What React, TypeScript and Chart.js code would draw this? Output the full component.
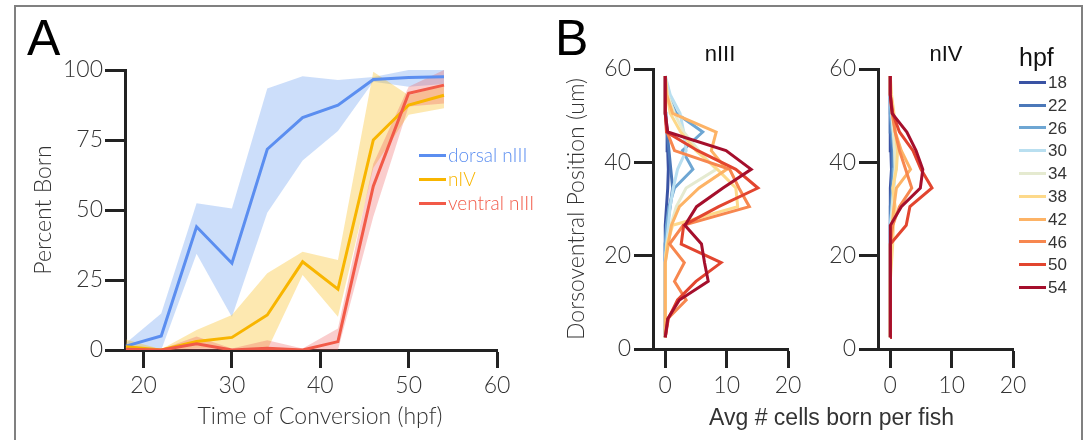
import React, { useEffect, useRef } from 'react';
import { Chart, registerables } from 'chart.js';

Chart.register(...registerables);

// ---------- Panel A data ----------
const conversionTimes = [18, 22, 26, 30, 34, 38, 42, 46, 50, 54];
const timeTicks = [20, 30, 40, 50, 60];
const percentTicks = [0, 25, 50, 75, 100];

const dorsalMean = [1.4, 5, 44, 31, 71.7, 83, 87.4, 96.6, 97.3, 97.6];
const dorsalUpper = [2.5, 13, 52.4, 50.5, 93.4, 97.8, 96.4, 97.5, 100, 100];
const dorsalLower = [0, 0, 34.4, 11.8, 49, 67.7, 78.2, 95.8, 94, 95];

const nIVMean = [1.2, 0, 3, 4.5, 12.5, 31.5, 21.7, 75, 87.5, 91];
const nIVUpper = [3.8, 0.3, 7.1, 12.5, 27.4, 35.1, 32.1, 99.4, 91, 94.5];
const nIVLower = [0, 0, 0.5, 0.5, 0, 26.8, 11.9, 65, 84, 86.3];

const ventralMean = [0.3, 0, 2.2, 0, 0.6, 0, 3, 58.5, 91.7, 94.6];
const ventralUpper = [0.8, 0.3, 4.8, 0.5, 3.5, 0.5, 7.7, 66.5, 94, 100];
const ventralLower = [0, 0, 0, 0, 0, 0, 0, 47.6, 87, 88];

const seriesLabelsA = ['dorsal nIII', 'nIV', 'ventral nIII'];
const seriesColorsA = ['#5b8ef0', '#f8b500', '#f25a48'];
const bandColorsA = ['rgba(110,160,240,0.35)', 'rgba(250,190,30,0.35)', 'rgba(240,90,90,0.3)'];

// ---------- Panel B data ----------
const dvPositions = [2.5, 6.5, 10.5, 14.5, 18.5, 22.5, 26.5, 30.5, 34.5, 38.5, 42.5, 46.5, 50.5, 54.5, 58.5];
const countTicks = [0, 10, 20];
const positionTicks = [0, 20, 40, 60];
const hpfLabels = ['18', '22', '26', '30', '34', '38', '42', '46', '50', '54'];
const hpfColors = ['#3a53a4', '#4b78b9', '#6ea6d3', '#b9dff0', '#e5ead0', '#fdd98a', '#fdb366', '#f7874f', '#e2452f', '#a50f2c'];

const nIII18 = [0, 0, 0, 0, 0, 0, 0, 0.2, 0.4, 0.5, 0.4, 0.3, 0, 0, 0];
const nIII22 = [0, 0, 0, 0, 0, 0, 0.3, 0.8, 1.2, 0.9, 0.6, 0.3, 0.1, 0, 0];
const nIII26 = [0, 0, 0, 0, 0, 0, 0.2, 0.6, 1.5, 4.5, 2.8, 6.1, 1.8, 0.3, 0];
const nIII30 = [0, 0, 0, 0, 0, 0.2, 0.5, 0.8, 1.3, 2.0, 3.4, 3.0, 2.4, 0.8, 0];
const nIII34 = [0, 0, 0, 0, 0, 0.3, 0.9, 1.8, 3.4, 8.3, 5.5, 3.0, 1.5, 0.4, 0];
const nIII38 = [0, 0, 0, 0, 0, 0.3, 1.2, 11.8, 11.5, 8.5, 5.0, 2.5, 0.8, 0.3, 0];
const nIII42 = [0, 0, 0, 0, 0, 0.5, 1.0, 2.3, 5.5, 10.0, 7.5, 8.3, 1.2, 0.2, 0];
const nIII46 = [0, 0.4, 3.4, 1.5, 3.1, 0.7, 2.9, 13.7, 12.0, 10.5, 1.5, 0.3, 0, 0, 0];
const nIII50 = [0, 0.5, 2.0, 5.0, 9.1, 2.6, 3.0, 8.7, 15.1, 11.5, 5.3, 0.2, 0, 0, 0];
const nIII54 = [0, 0.4, 2.3, 7.0, 6.4, 5.9, 3.2, 5.1, 9.4, 14.0, 9.9, 0.4, 0, 0, 0];

const nIV18 = [0, 0, 0, 0, 0, 0, 0, 0, 0.1, 0.2, 0.1, 0, 0, 0, 0];
const nIV22 = [0, 0, 0, 0, 0, 0, 0, 0.1, 0.2, 0.3, 0.3, 0.1, 0, 0, 0];
const nIV26 = [0, 0, 0, 0, 0, 0, 0, 0.2, 0.4, 0.5, 0.6, 0.3, 0, 0, 0];
const nIV30 = [0, 0, 0, 0, 0, 0, 0.1, 0.3, 0.6, 0.8, 0.9, 0.5, 0.2, 0, 0];
const nIV34 = [0, 0, 0, 0, 0, 0.1, 0.2, 0.4, 0.5, 0.8, 0.7, 0.5, 0.3, 0, 0];
const nIV38 = [0, 0, 0, 0, 0.2, 0.4, 0.5, 0.8, 0.4, 1.0, 1.2, 0.8, 0.6, 0.2, 0];
const nIV42 = [0, 0, 0, 0, 0, 0.1, 0.3, 0.6, 1.0, 3.3, 1.8, 0.8, 0.4, 0, 0];
const nIV46 = [0, 0, 0, 0, 0, 0, 0.4, 1.5, 3.5, 2.5, 1.5, 0.8, 0.3, 0, 0];
const nIV50 = [0, 0, 0, 0, 0, 0.1, 2.6, 3.2, 6.8, 5.0, 3.7, 1.5, 0.4, 0, 0];
const nIV54 = [0, 0, 0, 0, 0, 0, 0.1, 1.8, 4.9, 5.3, 4.2, 2.7, 0.3, 0, 0];

const nIIISeries = [nIII18, nIII22, nIII26, nIII30, nIII34, nIII38, nIII42, nIII46, nIII50, nIII54];
const nIVSeries = [nIV18, nIV22, nIV26, nIV30, nIV34, nIV38, nIV42, nIV46, nIV50, nIV54];

// ---------- styling ----------
const GEO = 'Lato, "DejaVu Sans", sans-serif';
const HELV = '"Liberation Sans", Arial, sans-serif';
const K_LIB = 0.8465;
const K_LATO = 0.89;
const AXIS = '#222';
const LABEL = '#333';

function axisCommon(tickLength: number, padding: number) {
  return {
    grid: { display: true, drawOnChartArea: false, drawTicks: true, tickLength, tickWidth: 3, tickColor: AXIS },
    border: { display: true, width: 3, color: AXIS },
    ticks: { padding, color: LABEL, font: { family: 'Lato', size: 23, weight: '300' }, maxRotation: 0, autoSkip: false },
  };
}

function panelAConfig(): any {
  const pts = (vals: number[]) => vals.map((v, i) => ({ x: conversionTimes[i], y: v }));
  const line = (i: number, vals: number[]) => ({
    label: seriesLabelsA[i], data: pts(vals), borderColor: seriesColorsA[i], borderWidth: 3,
    pointRadius: 0, fill: false, tension: 0,
  });
  const edge = (vals: number[], fill: any, bg: string) => ({
    data: pts(vals), borderWidth: 0, borderColor: 'rgba(0,0,0,0)', pointRadius: 0,
    fill, backgroundColor: bg, tension: 0,
  });
  const xc = axisCommon(18, 4);
  const yc = axisCommon(20, 2);
  return {
    type: 'line',
    data: {
      datasets: [
        line(2, ventralMean),
        line(1, nIVMean),
        line(0, dorsalMean),
        edge(ventralUpper, '+1', bandColorsA[2]), edge(ventralLower, false, 'transparent'),
        edge(nIVUpper, '+1', bandColorsA[1]), edge(nIVLower, false, 'transparent'),
        edge(dorsalUpper, '+1', bandColorsA[0]), edge(dorsalLower, false, 'transparent'),
      ],
    },
    options: {
      responsive: false, animation: false, events: [],
      layout: { padding: { left: 0, top: 70, right: 43, bottom: 0 } },
      plugins: { legend: { display: false }, tooltip: { enabled: false } },
      scales: {
        x: {
          type: 'linear', min: 17.9, max: 60, ...xc,
          afterBuildTicks: (s: any) => { s.ticks = timeTicks.map((v) => ({ value: v })); },
          afterFit: (s: any) => { s.height = 90; },
        },
        y: {
          type: 'linear', min: 0, max: 100, ...yc,
          afterBuildTicks: (s: any) => { s.ticks = percentTicks.map((v) => ({ value: v })); },
          afterFit: (s: any) => { s.width = 125; },
          title: { display: true, text: 'Percent Born', color: LABEL, font: { family: 'Lato', size: 23, weight: '300' }, padding: { top: 30, bottom: 0 } },
        },
      },
    },
  };
}

function profileConfig(series: number[][], yWidth: number, rightPad: number, yTitle: string | null): any {
  const xc = axisCommon(19, 4);
  const yc = axisCommon(19, 3);
  return {
    type: 'line',
    data: {
      datasets: series.map((vals, i) => ({
        label: hpfLabels[i],
        data: vals.map((c, j) => ({ x: c, y: dvPositions[j] })),
        borderColor: hpfColors[i], borderWidth: 3, pointRadius: 0, fill: false, tension: 0,
        order: series.length - i,
      })),
    },
    options: {
      responsive: false, animation: false, events: [],
      layout: { padding: { left: 0, top: 69, right: rightPad, bottom: 0 } },
      plugins: { legend: { display: false }, tooltip: { enabled: false } },
      scales: {
        x: {
          type: 'linear', min: -2, max: 20, ...xc,
          afterBuildTicks: (s: any) => { s.ticks = countTicks.map((v) => ({ value: v })); },
          afterFit: (s: any) => { s.height = 91; },
        },
        y: {
          type: 'linear', min: 0, max: 60, ...yc,
          afterBuildTicks: (s: any) => { s.ticks = positionTicks.map((v) => ({ value: v })); },
          afterFit: (s: any) => { s.width = yWidth; },
          title: yTitle
            ? { display: true, text: yTitle, color: LABEL, font: { family: 'Lato', size: 23, weight: '300' }, padding: { top: 23, bottom: 0 } }
            : { display: false },
        },
      },
    },
  };
}

function ChartCanvas({ left, width, config }: { left: number; width: number; config: () => any }) {
  const ref = useRef<HTMLCanvasElement | null>(null);
  useEffect(() => {
    if (!ref.current) return;
    const chart = new Chart(ref.current, config());
    return () => chart.destroy();
  }, []);
  return (
    <canvas ref={ref} width={width} height={440}
      style={{ position: 'absolute', left, top: 0, width, height: 440 }} />
  );
}

function Txt({ x, base, text, size, font, k, color = LABEL, center = false, weight = 400 }: any) {
  return (
    <div style={{
      position: 'absolute', left: x, top: base - k * size, fontFamily: font, fontSize: size,
      lineHeight: `${size}px`, color, whiteSpace: 'nowrap', fontWeight: weight,
      transform: center ? 'translateX(-50%)' : undefined,
    }}>{text}</div>
  );
}

function Swatch({ x, y, color }: { x: number; y: number; color: string }) {
  return <div style={{ position: 'absolute', left: x, top: y - 1.5, width: 27, height: 3, background: color }} />;
}

export default function App() {
  const legendAY = [155, 179.3, 203.3];
  const legendBY = hpfLabels.map((_, i) => 82.3 + i * 22.8);
  return (
    <div style={{ position: 'absolute', left: 0, top: 0, width: 1091, height: 440, overflow: 'hidden', background: '#fff' }}>
      <div style={{
        position: 'absolute', left: 14, top: 5, width: 1069, height: 500, boxSizing: 'border-box',
        border: '2px solid #808080',
      }} />
      <ChartCanvas left={0} width={540} config={panelAConfig} />
      <ChartCanvas left={540} width={270} config={() => profileConfig(nIIISeries, 113, 22, 'Dorsoventral Position (um)')} />
      <ChartCanvas left={810} width={230} config={() => profileConfig(nIVSeries, 68, 27, null)} />

      <Txt x={27} base={55} text="A" size={50} font={HELV} k={K_LIB} color="#000" />
      <Txt x={555} base={55} text="B" size={50} font={HELV} k={K_LIB} color="#000" />

      {seriesLabelsA.map((lab, i) => (
        <React.Fragment key={lab}>
          <Swatch x={419} y={legendAY[i]} color={seriesColorsA[i]} />
          <Txt x={448} base={legendAY[i] + 6.8} text={lab} size={19} font={GEO} k={K_LATO} color={seriesColorsA[i]} weight={300} />
        </React.Fragment>
      ))}
      <Txt x={320} base={424} text="Time of Conversion (hpf)" size={23} font={GEO} k={K_LATO} center weight={300} />

      <Txt x={720} base={62} text="nIII" size={22} font={HELV} k={K_LIB} color="#111" center />
      <Txt x={946} base={62} text="nIV" size={22} font={HELV} k={K_LIB} color="#111" center />
      <Txt x={1019} base={66} text="hpf" size={25} font={HELV} k={K_LIB} color="#111" />
      {hpfLabels.map((lab, i) => (
        <React.Fragment key={lab}>
          <Swatch x={1019} y={legendBY[i]} color={hpfColors[i]} />
          <Txt x={1048} base={legendBY[i] + 6} text={lab} size={17} font={HELV} k={K_LIB} />
        </React.Fragment>
      ))}
      <Txt x={831.6} base={425} text="Avg # cells born per fish" size={23} font={HELV} k={K_LIB} center />
    </div>
  );
}
